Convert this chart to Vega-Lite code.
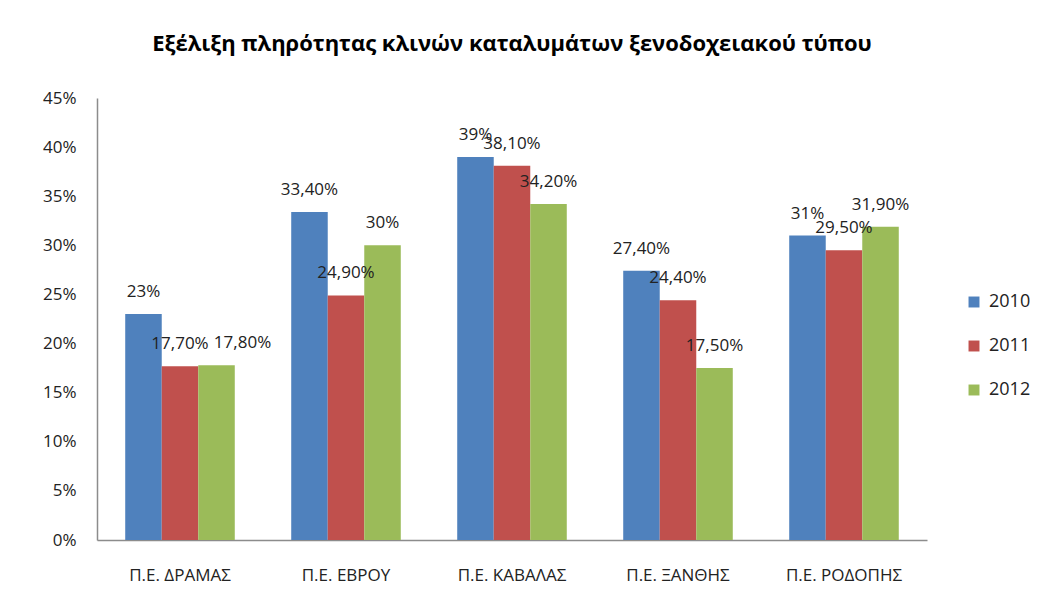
{
  "$schema": "https://vega.github.io/schema/vega-lite/v6.json",
  "autosize": {"type": "none"},
  "width": 830,
  "height": 442,
  "padding": {"left": 97, "top": 98, "right": 113, "bottom": 71},
  "background": "white",
  "title": {
    "text": "Εξέλιξη πληρότητας κλινών καταλυμάτων ξενοδοχειακού τύπου",
    "font": "Open Sans",
    "fontSize": 22,
    "fontWeight": "bold",
    "color": "#000000",
    "anchor": "middle",
    "offset": 33
  },
  "data": {
    "values": [
      {"region": "Π.Ε. ΔΡΑΜΑΣ", "year": "2010", "value": 23, "label": "23%"},
      {"region": "Π.Ε. ΔΡΑΜΑΣ", "year": "2011", "value": 17.7, "label": "17,70%"},
      {"region": "Π.Ε. ΔΡΑΜΑΣ", "year": "2012", "value": 17.8, "label": "17,80%"},
      {"region": "Π.Ε. ΕΒΡΟΥ", "year": "2010", "value": 33.4, "label": "33,40%"},
      {"region": "Π.Ε. ΕΒΡΟΥ", "year": "2011", "value": 24.9, "label": "24,90%"},
      {"region": "Π.Ε. ΕΒΡΟΥ", "year": "2012", "value": 30, "label": "30%"},
      {"region": "Π.Ε. ΚΑΒΑΛΑΣ", "year": "2010", "value": 39, "label": "39%"},
      {"region": "Π.Ε. ΚΑΒΑΛΑΣ", "year": "2011", "value": 38.1, "label": "38,10%"},
      {"region": "Π.Ε. ΚΑΒΑΛΑΣ", "year": "2012", "value": 34.2, "label": "34,20%"},
      {"region": "Π.Ε. ΞΑΝΘΗΣ", "year": "2010", "value": 27.4, "label": "27,40%"},
      {"region": "Π.Ε. ΞΑΝΘΗΣ", "year": "2011", "value": 24.4, "label": "24,40%"},
      {"region": "Π.Ε. ΞΑΝΘΗΣ", "year": "2012", "value": 17.5, "label": "17,50%"},
      {"region": "Π.Ε. ΡΟΔΟΠΗΣ", "year": "2010", "value": 31, "label": "31%"},
      {"region": "Π.Ε. ΡΟΔΟΠΗΣ", "year": "2011", "value": 29.5, "label": "29,50%"},
      {"region": "Π.Ε. ΡΟΔΟΠΗΣ", "year": "2012", "value": 31.9, "label": "31,90%"}
    ]
  },
  "encoding": {
    "x": {
      "field": "region",
      "type": "nominal",
      "sort": null,
      "scale": {"paddingInner": 0.34, "paddingOuter": 0.17},
      "axis": {
        "title": null,
        "labelAngle": 0,
        "labelFont": "Open Sans",
        "labelFontSize": 17,
        "labelColor": "#222222",
        "labelPadding": 27,
        "ticks": false,
        "domainColor": "#8c8c8c",
        "domainWidth": 1.5
      }
    },
    "xOffset": {"field": "year", "type": "nominal", "scale": {"paddingInner": 0, "paddingOuter": 0}},
    "y": {
      "field": "value",
      "type": "quantitative",
      "scale": {"domain": [0, 45], "nice": false},
      "axis": {
        "title": null,
        "values": [0, 5, 10, 15, 20, 25, 30, 35, 40, 45],
        "labelExpr": "datum.value + '%'",
        "labelFont": "Open Sans",
        "labelFontSize": 17,
        "labelColor": "#222222",
        "labelPadding": 21,
        "ticks": false,
        "grid": false,
        "domainColor": "#8c8c8c",
        "domainWidth": 1.5
      }
    }
  },
  "layer": [
    {
      "mark": {"type": "bar"},
      "encoding": {
        "color": {
          "field": "year",
          "type": "nominal",
          "scale": {"domain": ["2010", "2011", "2012"], "range": ["#4F81BD", "#C0504D", "#9BBB59"]},
          "legend": {
            "title": null,
            "orient": "none",
            "legendX": 868,
            "legendY": 195,
            "symbolType": "square",
            "symbolSize": 120,
            "symbolStrokeWidth": 0,
            "labelFont": "Open Sans",
            "labelFontSize": 18,
            "labelColor": "#222222",
            "labelOffset": 6,
            "rowPadding": 26
          }
        }
      }
    },
    {
      "mark": {
        "type": "text",
        "baseline": "middle",
        "align": "center",
        "dy": -22,
        "dx": {"expr": "datum.region === 'Π.Ε. ΔΡΑΜΑΣ' && datum.year === '2012' ? 26 : 0"},
        "font": "Open Sans",
        "fontSize": 17,
        "color": "#222222"
      },
      "encoding": {
        "text": {"field": "label", "type": "nominal"}
      }
    }
  ],
  "config": {"view": {"stroke": null}}
}
